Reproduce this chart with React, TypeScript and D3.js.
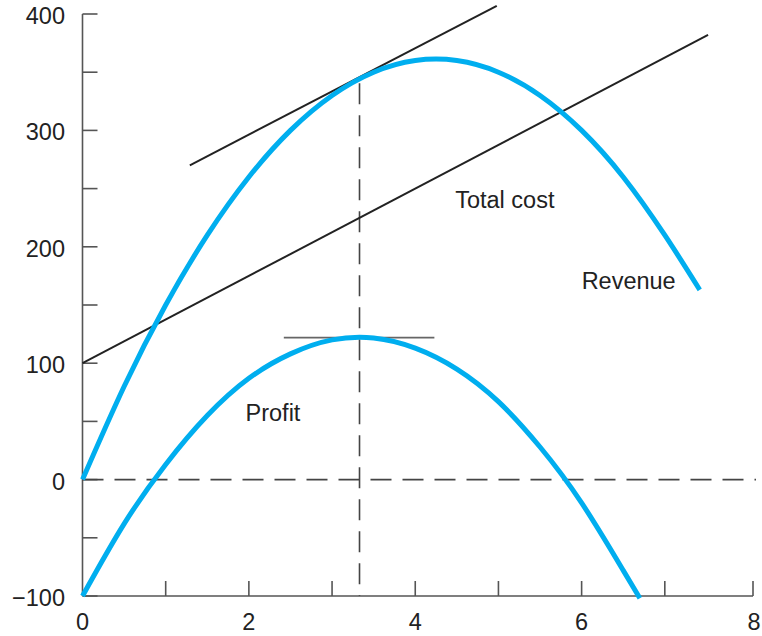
import React, { useEffect, useRef } from 'react';
import * as d3 from 'd3';

// quantities (x) and values (y)
const revenueQ = [0, 0.5, 1, 1.5, 2, 2.5, 3, 3.5, 4, 4.5, 5, 5.5, 6, 6.5, 7, 7.42];
const revenueV = [0, 80, 150, 210, 260, 300, 330, 350, 360, 360, 350, 330, 300, 260, 210, 163];

const profitQ = [0, 0.5, 1, 1.5, 2, 2.5, 3, 3.5, 4, 4.5, 5, 5.5, 6, 6.5, 6.7];
const profitV = [-100, -38, 13, 55, 87, 108, 120, 121.7, 113, 95, 67, 28, -20, -78, -102];

const costQ = [0, 7.52];
const costV = [100, 382];

const tangentQ = [1.29, 4.98];
const tangentV = [270, 407];

const profitTopQ = [2.42, 4.23];
const profitTopV = [122, 122];

const optimumQ = 3.33;
const optimumV = 344;

const yTicks = [-100, -50, 0, 50, 100, 150, 200, 250, 300, 350, 400];
const yLabels = [-100, 0, 100, 200, 300, 400];
const xTicks = [1, 2, 3, 4, 5, 6, 7, 8];
const xLabels = [0, 2, 4, 6, 8];

const curveLabels = [
  { text: 'Total cost', q: 4.48, v: 233 },
  { text: 'Revenue', q: 6.0, v: 164 },
  { text: 'Profit', q: 1.96, v: 50 },
];

const App = () => {
  const svgRef = useRef<SVGSVGElement>(null);

  useEffect(() => {
    const width = 762;
    const height = 636;

    d3.select(svgRef.current).selectAll('*').remove();
    const svg = d3.select(svgRef.current)
      .attr('width', width)
      .attr('height', height);

    const x = d3.scaleLinear().domain([0, 8]).range([82.5, 748]);
    const y = d3.scaleLinear().domain([-100, 400]).range([596, 14]);

    const font = '"Liberation Sans", Arial, Helvetica, sans-serif';
    const fontSize = 23.5;
    const axisColor = '#555';
    const blue = '#00AEEF';

    // axes
    svg.append('line')
      .attr('x1', x(0)).attr('x2', x(0))
      .attr('y1', y(400)).attr('y2', y(-100))
      .attr('stroke', axisColor).attr('stroke-width', 1.6);
    svg.append('line')
      .attr('x1', x(0)).attr('x2', x(8) + 5)
      .attr('y1', y(-100)).attr('y2', y(-100))
      .attr('stroke', axisColor).attr('stroke-width', 1.6);

    svg.selectAll('.ytick')
      .data(yTicks)
      .enter()
      .append('line')
      .attr('x1', x(0)).attr('x2', x(0) + 15)
      .attr('y1', d => y(d)).attr('y2', d => y(d))
      .attr('stroke', axisColor).attr('stroke-width', 1.6);

    svg.selectAll('.xtick')
      .data(xTicks)
      .enter()
      .append('line')
      .attr('x1', d => (d === 8 ? x(d) + 5 : x(d)))
      .attr('x2', d => (d === 8 ? x(d) + 5 : x(d)))
      .attr('y1', y(-100)).attr('y2', y(-100) - 15)
      .attr('stroke', axisColor).attr('stroke-width', 1.6);

    svg.selectAll('.ylabel')
      .data(yLabels)
      .enter()
      .append('text')
      .attr('x', 65)
      .attr('y', d => y(d) + 10)
      .attr('text-anchor', 'end')
      .attr('font-family', font)
      .attr('font-size', fontSize)
      .attr('fill', '#222')
      .text(d => (d < 0 ? '\u2212' + Math.abs(d) : String(d)));

    svg.selectAll('.xlabel')
      .data(xLabels)
      .enter()
      .append('text')
      .attr('x', d => (d === 8 ? x(d) + 6 : x(d)))
      .attr('y', 630)
      .attr('text-anchor', 'middle')
      .attr('font-family', font)
      .attr('font-size', fontSize)
      .attr('fill', '#222')
      .text(d => String(d));

    // dashed guides
    svg.append('line')
      .attr('x1', x(0)).attr('x2', 756)
      .attr('y1', y(0)).attr('y2', y(0))
      .attr('stroke', '#444').attr('stroke-width', 1.6)
      .attr('stroke-dasharray', '21,11');
    svg.append('line')
      .attr('x1', x(optimumQ)).attr('x2', x(optimumQ))
      .attr('y1', y(optimumV) + 4).attr('y2', y(-100))
      .attr('stroke', '#444').attr('stroke-width', 1.6)
      .attr('stroke-dasharray', '21,11');

    const line = d3.line<[number, number]>()
      .x(d => x(d[0]))
      .y(d => y(d[1]));

    const zip = (qs: number[], vs: number[]) => qs.map((q, i) => [q, vs[i]] as [number, number]);

    // straight lines
    svg.append('path')
      .attr('d', line(zip(profitTopQ, profitTopV)))
      .attr('fill', 'none').attr('stroke', '#666').attr('stroke-width', 1.8);
    svg.append('path')
      .attr('d', line(zip(costQ, costV)))
      .attr('fill', 'none').attr('stroke', '#222').attr('stroke-width', 2);
    svg.append('path')
      .attr('d', line(zip(tangentQ, tangentV)))
      .attr('fill', 'none').attr('stroke', '#222').attr('stroke-width', 2);

    // curves
    const curve = d3.line<[number, number]>()
      .x(d => x(d[0]))
      .y(d => y(d[1]))
      .curve(d3.curveNatural);

    svg.append('path')
      .attr('d', curve(zip(revenueQ, revenueV)))
      .attr('fill', 'none').attr('stroke', blue).attr('stroke-width', 5);
    svg.append('path')
      .attr('d', curve(zip(profitQ, profitV)))
      .attr('fill', 'none').attr('stroke', blue).attr('stroke-width', 5);

    svg.selectAll('.clabel')
      .data(curveLabels)
      .enter()
      .append('text')
      .attr('x', d => x(d.q))
      .attr('y', d => y(d.v))
      .attr('font-family', font)
      .attr('font-size', fontSize)
      .attr('fill', '#222')
      .text(d => d.text);
  }, []);

  return (
    <svg ref={svgRef} style={{ position: 'absolute', left: 0, top: 0 }} />
  );
};

export default App;
